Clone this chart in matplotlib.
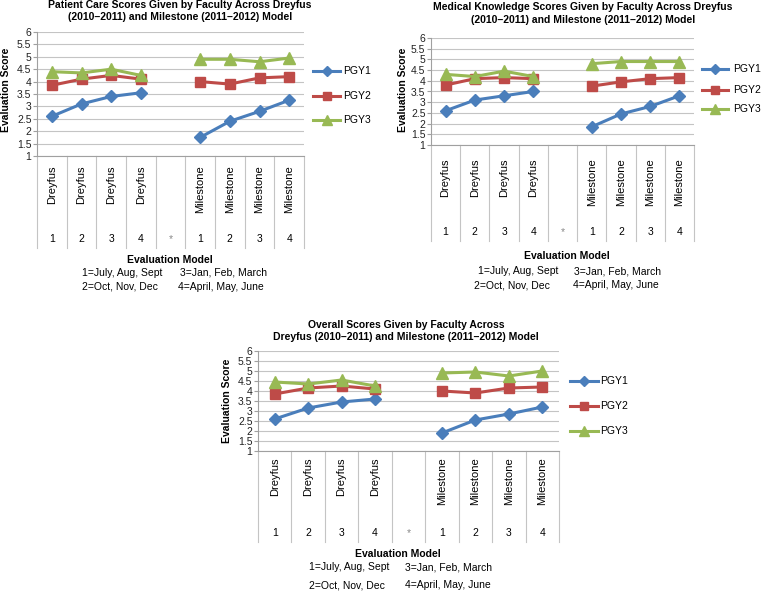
import numpy as np
import matplotlib.pyplot as plt
from matplotlib.lines import Line2D
from matplotlib.transforms import blended_transform_factory

plt.rcParams['font.family'] = ['Liberation Sans', 'DejaVu Sans']

# Data
group_labels = ['Dreyfus'] * 4 + [''] + ['Milestone'] * 4
quarter_labels = ['1', '2', '3', '4', '*', '1', '2', '3', '4']
series_names = ['PGY1', 'PGY2', 'PGY3']

patient_pgy1 = [2.6, 3.1, 3.4, 3.55, np.nan, 1.75, 2.4, 2.8, 3.25]
patient_pgy2 = [3.85, 4.1, 4.25, 4.1, np.nan, 4.0, 3.9, 4.15, 4.2]
patient_pgy3 = [4.4, 4.35, 4.5, 4.25, np.nan, 4.9, 4.9, 4.8, 4.95]

medical_pgy1 = [2.6, 3.1, 3.3, 3.5, np.nan, 1.85, 2.45, 2.8, 3.3]
medical_pgy2 = [3.8, 4.1, 4.15, 4.1, np.nan, 3.75, 3.95, 4.1, 4.15]
medical_pgy3 = [4.3, 4.2, 4.45, 4.2, np.nan, 4.8, 4.9, 4.9, 4.9]

overall_pgy1 = [2.6, 3.15, 3.45, 3.6, np.nan, 1.9, 2.55, 2.85, 3.2]
overall_pgy2 = [3.85, 4.15, 4.25, 4.1, np.nan, 4.0, 3.9, 4.15, 4.2]
overall_pgy3 = [4.45, 4.35, 4.55, 4.25, np.nan, 4.9, 4.95, 4.75, 5.0]

footnotes = ['1=July, Aug, Sept', '3=Jan, Feb, March',
             '2=Oct, Nov, Dec', '4=April, May, June']

# Styles
colors = ['#4a7ebb', '#be4b48', '#98b954']
markers = ['D', 's', '^']
msizes = [6.5, 7.5, 8.5]
GRID = '#c4c4c4'
FS = 7.5

W, H = 762, 591
fig = plt.figure(figsize=(W / 100, H / 100), dpi=100)


def fx(px):
    return px / W


def fy(py):
    return 1 - py / H


# pixel layout of each panel
panels = [
    dict(title=['Patient Care Scores Given by Faculty Across Dreyfus',
                '(2010\u20132011) and Milestone (2011\u20132012) Model'],
         data=[patient_pgy1, patient_pgy2, patient_pgy3],
         L=37, R=304, T=32, B=156, TB=248, num_y=239, lab_top=165,
         title_x=180, title_y=[5, 17], ylab=(6, 90),
         em=(170, 260), foot_y=[273, 287], foot_x=[(82, 180), (82, 178)],
         leg_x=(313, 340, 343), leg_y=[71, 96, 120]),
    dict(title=['Medical Knowledge Scores Given by Faculty Across Dreyfus',
                '(2010\u20132011) and Milestone (2011\u20132012) Model'],
         data=[medical_pgy1, medical_pgy2, medical_pgy3],
         L=431, R=694, T=38, B=145, TB=241, num_y=232, lab_top=158,
         title_x=583, title_y=[7, 20], ylab=(403, 90),
         em=(567, 256), foot_y=[271, 285], foot_x=[(478, 574), (474, 573)],
         leg_x=(702, 728, 733), leg_y=[69, 90, 109]),
    dict(title=['Overall Scores Given by Faculty Across',
                'Dreyfus (2010\u20132011) and Milestone (2011\u20132012) Model'],
         data=[overall_pgy1, overall_pgy2, overall_pgy3],
         L=258, R=559, T=351, B=451, TB=542, num_y=533, lab_top=457,
         title_x=406, title_y=[325, 337], ylab=(227, 401),
         em=(398, 554), foot_y=[567, 585], foot_x=[(309, 405), (309, 405)],
         leg_x=(570, 598, 600), leg_y=[381, 406, 431]),
]

x = np.arange(len(quarter_labels))
yticks = np.arange(1, 6.01, 0.5)

for p in panels:
    ax = fig.add_axes([fx(p['L']), fy(p['B']), (p['R'] - p['L']) / W,
                       (p['B'] - p['T']) / H])
    ax.set_xlim(-0.5, 8.5)
    ax.set_ylim(1, 6)
    ax.set_yticks(yticks)
    ax.set_yticklabels([f'{v:g}' for v in yticks])
    ax.set_xticks([])
    ax.yaxis.grid(True, color=GRID, lw=0.8)
    ax.set_axisbelow(True)
    for s in ['top', 'right']:
        ax.spines[s].set_visible(False)
    for s in ['left', 'bottom']:
        ax.spines[s].set_color('#a0a0a0')
        ax.spines[s].set_linewidth(0.8)
    ax.tick_params(axis='y', length=3, width=0.8, color='#a0a0a0',
                   labelsize=FS, pad=1, labelcolor='#222222')

    for vals, c, m, ms in zip(p['data'], colors, markers, msizes):
        ax.plot(x, vals, color=c, lw=2.2, marker=m, ms=ms, clip_on=False)

    # category table under the plot
    tr = blended_transform_factory(ax.transData, fig.transFigure)
    for b in np.arange(-0.5, 9, 1):
        ax.plot([b, b], [fy(p['B']), fy(p['TB'])], transform=tr,
                clip_on=False, color=GRID, lw=0.8)
    for i in x:
        if group_labels[i]:
            ax.text(i, fy(p['lab_top']), group_labels[i], rotation=90,
                    ha='center', va='top', fontsize=8, transform=tr)
        ax.text(i, fy(p['num_y']), quarter_labels[i], ha='center',
                va='center', fontsize=FS, transform=tr,
                color='#888888' if quarter_labels[i] == '*' else 'black')

    fig.text(fx(p['em'][0]), fy(p['em'][1]), 'Evaluation Model',
             ha='center', va='center', fontsize=FS, fontweight='bold')
    for row, yy in enumerate(p['foot_y']):
        for col, xx in enumerate(p['foot_x'][row]):
            fig.text(fx(xx), fy(yy), footnotes[row * 2 + col],
                     ha='left', va='center', fontsize=FS)

    for line, yy in zip(p['title'], p['title_y']):
        fig.text(fx(p['title_x']), fy(yy), line, ha='center', va='center',
                 fontsize=7.5, fontweight='bold')
    fig.text(fx(p['ylab'][0]), fy(p['ylab'][1]), 'Evaluation Score',
             rotation=90, ha='center', va='center', fontsize=FS,
             fontweight='bold')

    x0, x1, tx = p['leg_x']
    for name, c, m, ms, yy in zip(series_names, colors, markers, msizes,
                                  p['leg_y']):
        fig.add_artist(Line2D([fx(x0), fx((x0 + x1) / 2), fx(x1)],
                              [fy(yy)] * 3, color=c, lw=2.2, marker=m,
                              ms=ms * 0.85, markevery=[1]))
        fig.text(fx(tx), fy(yy), name, ha='left', va='center', fontsize=FS)

fig.savefig('out.png', dpi=100)
